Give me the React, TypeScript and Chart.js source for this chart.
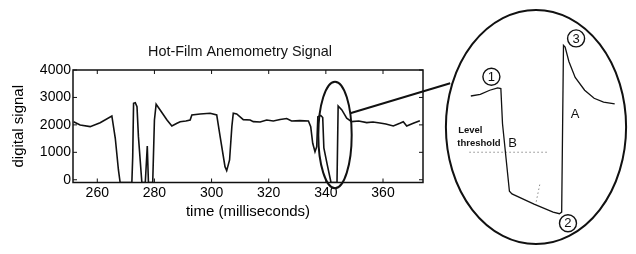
import React, { useEffect, useRef } from "react";
import { Chart, registerables } from "chart.js";

Chart.register(...registerables);

// ---------- main trace (time in ms, digital signal) ----------
const TIME_MS = [251.7, 254.0, 257.5, 261.0, 265.1, 266.3, 267.4, 268.0, 272.1, 272.4, 272.7, 273.3, 273.9, 274.4, 275.6, 276.8, 277.5, 277.9, 279.4, 280.0, 280.6, 282.0, 284.4, 286.1, 287.9, 289.0, 291.0, 292.5, 293.1, 296.0, 299.5, 301.8, 303.0, 304.7, 305.3, 306.3, 307.1, 307.6, 308.8, 311.1, 313.5, 314.6, 317.0, 319.3, 321.6, 324.0, 326.3, 328.0, 330.9, 333.9, 334.7, 335.4, 336.2, 336.8, 337.2, 338.2, 338.9, 339.3, 340.5, 341.8, 343.9, 344.3, 345.6, 347.3, 349.0, 351.5, 354.3, 356.5, 358.9, 361.0, 363.6, 365.9, 367.1, 368.3, 370.6, 372.9];
const SIGNAL = [2117, 1997, 1935, 2081, 2325, 1512, 357, -100, -100, 842, 2788, 2810, 2664, 1571, -100, -100, 1232, -100, -100, 2179, 2751, 2544, 2179, 1960, 2059, 2117, 2143, 2179, 2361, 2398, 2423, 2361, 1571, 477, 332, 722, 1935, 2423, 2398, 2190, 2179, 2117, 2106, 2179, 2143, 2197, 2234, 2143, 2154, 2143, 1935, 1330, 1024, 1206, 2299, 2343, 2270, 1159, 539, -100, -100, 2689, 2544, 2241, 2117, 2143, 2081, 2106, 2070, 2033, 1960, 2059, 2117, 1960, 2059, 2154];

const X_TICKS = [260, 280, 300, 320, 340, 360];
const Y_TICKS = [0, 1000, 2000, 3000, 4000];
const X_RANGE = [251.5, 374];
const Y_RANGE = [-100, 4000];

const TITLE = "Hot-Film Anemometry Signal";
const X_TITLE = "time (milliseconds)";
const Y_TITLE = "digital signal";

// highlighted region (ellipse) in data units: center time, center signal, half time, half signal
const HILITE_TIME = [343.2, 5.84];
const HILITE_SIGNAL = [1633, 1942];

// ---------- zoomed inset (schematic) ----------
const ZOOM_TIME = [337.66, 338.29, 338.92, 339.45, 339.66, 339.77, 340.23, 340.40, 341.87, 343.14, 343.56, 343.71, 343.83, 343.94, 344.19, 344.61, 345.24, 345.87, 346.50, 347.24];
const ZOOM_SIGNAL = [1966, 1993, 2062, 2101, 2089, 1503, 379, 336, 166, 32, 6, 32, 2809, 2781, 2542, 2276, 2062, 1929, 1866, 1834];
const ZOOM_X_RANGE = [336, 348];
const ZOOM_Y_RANGE = [-500, 3400];

const THRESH_TIME = [337.56, 342.72];
const THRESH_SIGNAL = [1030, 1030];
const MARK_TIME = [342.25, 341.98];
const MARK_SIGNAL = [491, 166];

const POINT_LABELS = ["1", "3", "2"];
const POINT_TIME = [339.03, 344.67, 344.13];
const POINT_SIGNAL = [2286, 2925, -153];

const NOTE_TEXT = ["A", "B", "Level", "threshold"];
const NOTE_TIME = [344.61, 340.44, 336.82, 336.76];
const NOTE_SIGNAL = [1653, 1178, 1391, 1178];

// ---------- layout ----------
const W = 636;
const H = 254;
const INSET_BOX = { left: 436, top: 0, width: 200, height: 254 };
const INSET_PAD = { left: 7, top: 8, right: 3, bottom: 2 };
const FONT = '"Liberation Sans", Arial, Helvetica, sans-serif';
const INK = "#111";

const insetEllipse = () => {
  const w = INSET_BOX.width - INSET_PAD.left - INSET_PAD.right;
  const h = INSET_BOX.height - INSET_PAD.top - INSET_PAD.bottom;
  return {
    cx: INSET_BOX.left + INSET_PAD.left + w / 2,
    cy: INSET_BOX.top + INSET_PAD.top + h / 2,
    rx: w / 2,
    ry: h / 2,
  };
};

const mainDecor = {
  id: "mainDecor",
  afterDraw(chart: any) {
    const { ctx, chartArea, scales } = chart;
    const { left, right, top, bottom } = chartArea;
    const x = scales.x;
    const y = scales.y;
    ctx.save();
    // frame
    ctx.strokeStyle = INK;
    ctx.lineWidth = 1.5;
    ctx.strokeRect(left, top, right - left, bottom - top);
    // inward ticks on all four sides
    ctx.lineWidth = 1;
    ctx.beginPath();
    X_TICKS.forEach((v) => {
      const px = x.getPixelForValue(v);
      ctx.moveTo(px, bottom);
      ctx.lineTo(px, bottom - 4);
      ctx.moveTo(px, top);
      ctx.lineTo(px, top + 4);
    });
    Y_TICKS.forEach((v) => {
      const py = y.getPixelForValue(v);
      ctx.moveTo(left, py);
      ctx.lineTo(left + 4, py);
      ctx.moveTo(right, py);
      ctx.lineTo(right - 4, py);
    });
    ctx.stroke();
    // title
    ctx.fillStyle = INK;
    ctx.font = `14.4px ${FONT}`;
    ctx.textAlign = "center";
    ctx.textBaseline = "middle";
    ctx.fillText(TITLE, (left + right) / 2 - 8, 52);
    // highlight ellipse
    const cx = x.getPixelForValue(HILITE_TIME[0]);
    const cy = y.getPixelForValue(HILITE_SIGNAL[0]);
    const rx = Math.abs(x.getPixelForValue(HILITE_TIME[0] + HILITE_TIME[1]) - cx);
    const ry = Math.abs(y.getPixelForValue(HILITE_SIGNAL[0] + HILITE_SIGNAL[1]) - cy);
    ctx.lineWidth = 2;
    ctx.beginPath();
    ctx.ellipse(cx, cy, rx, ry, 0, 0, Math.PI * 2);
    ctx.stroke();
    // connector to inset
    const a1 = (-24 * Math.PI) / 180;
    const big = insetEllipse();
    const a2 = (-157.5 * Math.PI) / 180;
    ctx.beginPath();
    ctx.moveTo(cx + rx * Math.cos(a1), cy + ry * Math.sin(a1));
    ctx.lineTo(big.cx + big.rx * Math.cos(a2), big.cy + big.ry * Math.sin(a2));
    ctx.stroke();
    ctx.restore();
  },
};

const insetDecor = {
  id: "insetDecor",
  afterDraw(chart: any) {
    const { ctx, chartArea, scales } = chart;
    const x = scales.x;
    const y = scales.y;
    ctx.save();
    ctx.strokeStyle = INK;
    ctx.fillStyle = INK;
    ctx.lineWidth = 2;
    ctx.beginPath();
    ctx.ellipse(
      (chartArea.left + chartArea.right) / 2,
      (chartArea.top + chartArea.bottom) / 2,
      (chartArea.right - chartArea.left) / 2,
      (chartArea.bottom - chartArea.top) / 2,
      0,
      0,
      Math.PI * 2
    );
    ctx.stroke();
    // numbers in circles
    ctx.textAlign = "center";
    ctx.textBaseline = "middle";
    ctx.font = `13px ${FONT}`;
    POINT_LABELS.forEach((t, i) => {
      ctx.fillText(t, x.getPixelForValue(POINT_TIME[i]), y.getPixelForValue(POINT_SIGNAL[i]) + 0.5);
    });
    // notes
    NOTE_TEXT.forEach((t, i) => {
      const px = x.getPixelForValue(NOTE_TIME[i]);
      const py = y.getPixelForValue(NOTE_SIGNAL[i]);
      if (t.length === 1) {
        ctx.textAlign = "center";
        ctx.font = `13px ${FONT}`;
      } else {
        ctx.textAlign = "left";
        ctx.font = `bold 9.5px ${FONT}`;
      }
      ctx.fillText(t, px, py);
    });
    ctx.restore();
  },
};

const pts = (xs: number[], ys: number[]) => xs.map((v, i) => ({ x: v, y: ys[i] }));

export default function App() {
  const mainRef = useRef<HTMLCanvasElement>(null);
  const insetRef = useRef<HTMLCanvasElement>(null);

  useEffect(() => {
    const tickFont = { family: FONT, size: 14 };
    const plain = (v: any) => String(v);
    const main = new Chart(mainRef.current as HTMLCanvasElement, {
      type: "line",
      data: {
        datasets: [
          {
            data: pts(TIME_MS, SIGNAL),
            borderColor: INK,
            borderWidth: 1.6,
            pointRadius: 0,
            tension: 0,
            fill: false,
          },
        ],
      },
      options: {
        animation: false,
        responsive: false,
        devicePixelRatio: 1,
        layout: { padding: { top: 70, right: W - 423, left: 0, bottom: 0 } },
        plugins: { legend: { display: false }, tooltip: { enabled: false }, title: { display: false } },
        scales: {
          x: {
            type: "linear",
            min: X_RANGE[0],
            max: X_RANGE[1],
            afterBuildTicks: (s: any) => {
              s.ticks = X_TICKS.map((v) => ({ value: v }));
            },
            afterFit: (s: any) => {
              s.height = H - 182.5;
            },
            grid: { display: false, drawTicks: false },
            border: { display: false },
            ticks: { color: "#000", font: tickFont, padding: 2, maxRotation: 0, autoSkip: false, callback: plain },
            title: {
              display: true,
              text: X_TITLE,
              color: "#000",
              font: { family: FONT, size: 15 },
              padding: { top: 0, bottom: 33 },
            },
          },
          y: {
            type: "linear",
            min: Y_RANGE[0],
            max: Y_RANGE[1],
            afterBuildTicks: (s: any) => {
              s.ticks = Y_TICKS.map((v) => ({ value: v }));
            },
            afterFit: (s: any) => {
              s.width = 73;
            },
            grid: { display: false, drawTicks: false },
            border: { display: false },
            ticks: { color: "#000", font: tickFont, padding: 2, callback: plain },
            title: {
              display: true,
              text: Y_TITLE,
              color: "#000",
              font: { family: FONT, size: 15 },
              padding: { top: 10, bottom: 0 },
            },
          },
        },
      },
      plugins: [mainDecor],
    } as any);

    const dotted = {
      borderColor: "#8a8a8a",
      borderWidth: 1,
      borderDash: [1.5, 2.5],
      pointRadius: 0,
      fill: false,
    };
    const inset = new Chart(insetRef.current as HTMLCanvasElement, {
      type: "line",
      data: {
        datasets: [
          {
            data: pts(ZOOM_TIME, ZOOM_SIGNAL),
            borderColor: INK,
            borderWidth: 1.3,
            pointRadius: 0,
            tension: 0,
            fill: false,
          },
          { data: pts(THRESH_TIME, THRESH_SIGNAL), ...dotted },
          { data: pts(MARK_TIME, MARK_SIGNAL), ...dotted },
          {
            data: pts(POINT_TIME, POINT_SIGNAL),
            showLine: false,
            pointRadius: 8.5,
            pointBorderWidth: 1.4,
            pointBorderColor: INK,
            pointBackgroundColor: "rgba(255,255,255,0)",
            clip: false,
          },
        ],
      },
      options: {
        animation: false,
        responsive: false,
        devicePixelRatio: 1,
        layout: { padding: INSET_PAD },
        plugins: { legend: { display: false }, tooltip: { enabled: false } },
        scales: {
          x: { type: "linear", display: false, min: ZOOM_X_RANGE[0], max: ZOOM_X_RANGE[1] },
          y: { type: "linear", display: false, min: ZOOM_Y_RANGE[0], max: ZOOM_Y_RANGE[1] },
        },
      },
      plugins: [insetDecor],
    } as any);

    return () => {
      main.destroy();
      inset.destroy();
    };
  }, []);

  return (
    <div style={{ position: "fixed", left: 0, top: 0, width: W, height: H, background: "#fff" }}>
      <canvas
        ref={mainRef}
        width={W}
        height={H}
        style={{ position: "absolute", left: 0, top: 0, width: W, height: H, display: "block" }}
      />
      <canvas
        ref={insetRef}
        width={INSET_BOX.width}
        height={INSET_BOX.height}
        style={{
          position: "absolute",
          left: INSET_BOX.left,
          top: INSET_BOX.top,
          width: INSET_BOX.width,
          height: INSET_BOX.height,
          display: "block",
        }}
      />
    </div>
  );
}
